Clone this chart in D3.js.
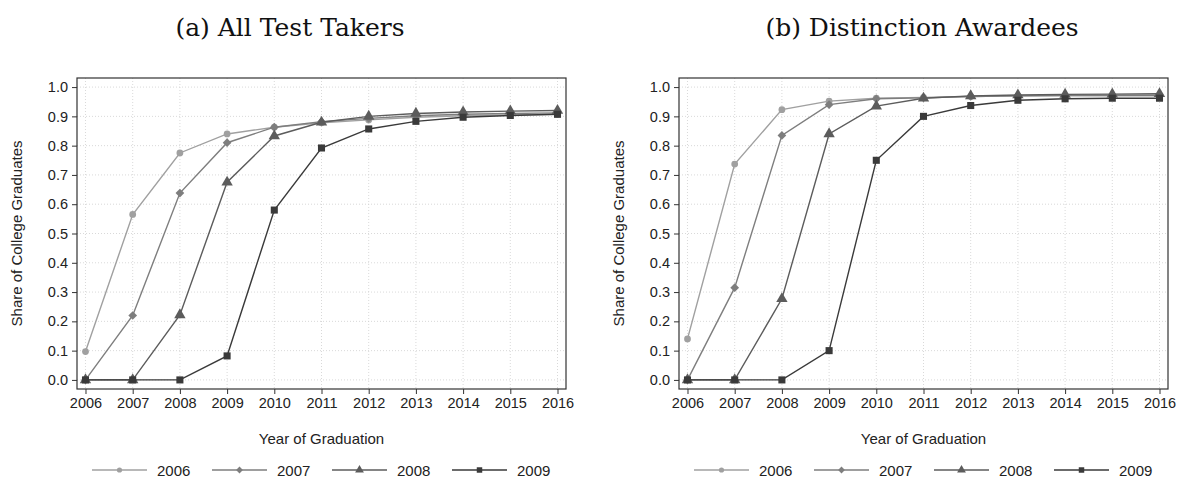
<!DOCTYPE html>
<html><head><meta charset="utf-8">
<script src="https://cdn.jsdelivr.net/npm/d3@7"></script>
<style>body{margin:0;background:#fff}svg{display:block}</style>
</head><body>
<svg id="c" width="1180" height="477"></svg>
<script>
const years = [2006,2007,2008,2009,2010,2011,2012,2013,2014,2015,2016];
const cohorts = ["2006","2007","2008","2009"];
const yTicks = [0,0.1,0.2,0.3,0.4,0.5,0.6,0.7,0.8,0.9,1.0];
const panelTitles = ["(a) All Test Takers","(b) Distinction Awardees"];
// Panel (a): All Test Takers
const a2006 = [0.097,0.565,0.775,0.840,0.863,0.878,0.888,0.897,0.902,0.905,0.907];
const a2007 = [0.000,0.220,0.638,0.810,0.863,0.882,0.893,0.902,0.907,0.910,0.912];
const a2008 = [0.000,0.000,0.222,0.675,0.833,0.880,0.900,0.910,0.915,0.918,0.920];
const a2009 = [0.000,0.000,0.000,0.082,0.580,0.792,0.857,0.883,0.897,0.903,0.907];
// Panel (b): Distinction Awardees
const b2006 = [0.140,0.737,0.923,0.952,0.962,0.965,0.968,0.970,0.970,0.970,0.970];
const b2007 = [0.000,0.315,0.835,0.940,0.960,0.963,0.968,0.970,0.972,0.972,0.972];
const b2008 = [0.000,0.000,0.277,0.840,0.935,0.962,0.970,0.973,0.975,0.976,0.977];
const b2009 = [0.000,0.000,0.000,0.100,0.750,0.900,0.937,0.955,0.960,0.962,0.962];

const panels = [[a2006,a2007,a2008,a2009],[b2006,b2007,b2008,b2009]];
const colors = ["#a0a0a0","#7e7e7e","#5c5c5c","#3a3a3a"];
const symbols = [d3.symbolCircle,d3.symbolSquare,d3.symbolTriangle,d3.symbolSquare];
const symRot = [0,45,0,0];
const symSizes = [36,38,56,50];

const svg = d3.select("#c");
const frames = [{l:77,r:566,cx:290},{l:679,r:1168,cx:922}];
const plotTop=78, plotBottom=389;
const sans = "'Liberation Sans', Arial, sans-serif";

frames.forEach((f,pi)=>{
  const g = svg.append("g");
  const x = d3.scaleLinear().domain([2006-0.18,2016+0.18]).range([f.l,f.r]);
  const y = d3.scaleLinear().domain([-0.031,1.031]).range([plotBottom,plotTop]);

  // title
  g.append("text").attr("x",f.cx).attr("y",36).attr("text-anchor","middle")
    .attr("font-family","'DejaVu Serif','Liberation Serif',serif").attr("font-size",25)
    .attr("fill","#111").text(panelTitles[pi]);

  // grid
  g.append("g").selectAll("line").data(yTicks).join("line")
    .attr("x1",f.l).attr("x2",f.r).attr("y1",d=>y(d)).attr("y2",d=>y(d))
    .attr("stroke","#cfcfcf").attr("stroke-width",0.8).attr("stroke-dasharray","1,2");
  g.append("g").selectAll("line").data(years).join("line")
    .attr("y1",plotTop).attr("y2",plotBottom).attr("x1",d=>x(d)).attr("x2",d=>x(d))
    .attr("stroke","#cfcfcf").attr("stroke-width",0.8).attr("stroke-dasharray","1,2");

  // axes
  const ya = d3.axisLeft(y).tickValues(yTicks).tickFormat(d3.format(".1f")).tickSize(5).tickPadding(4);
  const yg = g.append("g").attr("transform",`translate(${f.l},0)`).call(ya);
  const xa = d3.axisBottom(x).tickValues(years).tickFormat(d3.format("d")).tickSize(5).tickPadding(4);
  const xg = g.append("g").attr("transform",`translate(0,${plotBottom})`).call(xa);
  [yg,xg].forEach(a=>{
    a.select(".domain").remove();
    a.selectAll(".tick line").attr("stroke","#333");
    a.selectAll("text").attr("font-family",sans).attr("font-size",14.5).attr("fill","#222");
  });

  // frame
  g.append("rect").attr("x",f.l).attr("y",plotTop).attr("width",f.r-f.l).attr("height",plotBottom-plotTop)
    .attr("fill","none").attr("stroke","#333").attr("stroke-width",1.2);

  // series
  const line = d3.line().x((d,i)=>x(years[i])).y(d=>y(d));
  panels[pi].forEach((vals,si)=>{
    g.append("path").datum(vals).attr("d",line).attr("fill","none")
      .attr("stroke",colors[si]).attr("stroke-width",1.4);
    g.append("g").selectAll("path").data(vals).join("path")
      .attr("transform",(d,i)=>`translate(${x(years[i])},${y(d)}) rotate(${symRot[si]})`)
      .attr("d",d3.symbol().type(symbols[si]).size(symSizes[si]))
      .attr("fill",colors[si]);
  });

  // axis titles
  g.append("text").attr("transform",`translate(${f.l-55},${(plotTop+plotBottom)/2}) rotate(-90)`)
    .attr("text-anchor","middle").attr("font-family",sans).attr("font-size",15).attr("fill","#222")
    .text("Share of College Graduates");
  g.append("text").attr("x",(f.l+f.r)/2).attr("y",444).attr("text-anchor","middle")
    .attr("font-family",sans).attr("font-size",15).attr("fill","#222").text("Year of Graduation");

  // legend
  const lx0 = f.l+15;
  cohorts.forEach((c,si)=>{
    const lx = lx0 + si*120;
    const lg = g.append("g");
    lg.append("line").attr("x1",lx).attr("x2",lx+55).attr("y1",470).attr("y2",470)
      .attr("stroke",colors[si]).attr("stroke-width",1.4);
    lg.append("path").attr("transform",`translate(${lx+27.5},470) rotate(${symRot[si]})`)
      .attr("d",d3.symbol().type(symbols[si]).size(symSizes[si]*0.6)).attr("fill",colors[si]);
    lg.append("text").attr("x",lx+65).attr("y",475.5).attr("font-family",sans)
      .attr("font-size",15).attr("fill","#222").text(c);
  });
});
</script>
</body></html>
